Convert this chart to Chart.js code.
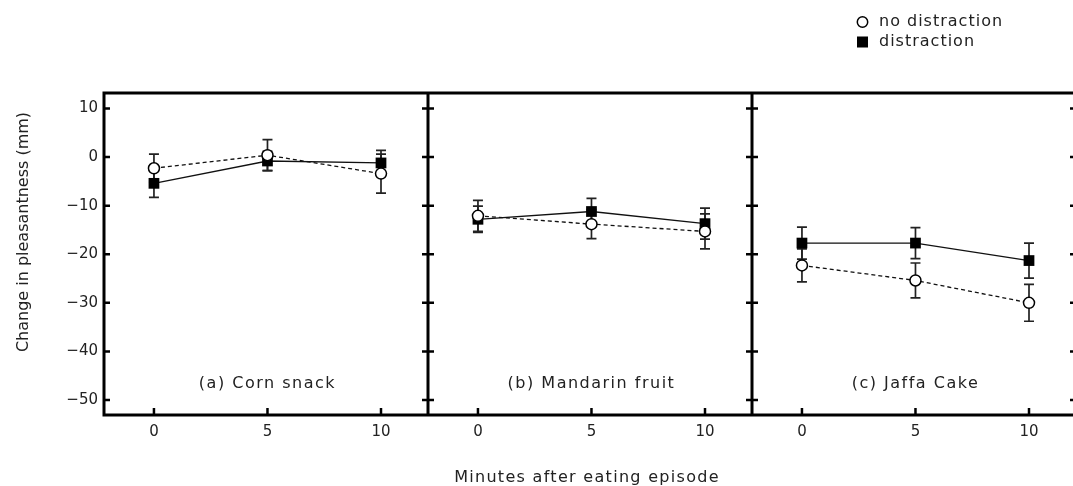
<!DOCTYPE html>
<html>
<head>
<meta charset="utf-8">
<script src="https://cdn.jsdelivr.net/npm/chart.js@4.4.1/dist/chart.umd.min.js"></script>
<style>
  html, body { margin: 0; padding: 0; background: #fff; overflow: hidden; }
  #wrap { position: relative; width: 1080px; height: 486px; }
</style>
</head>
<body>
<div id="wrap"><canvas id="chart" width="1080" height="486"></canvas></div>
<script>
'use strict';

/**
 * data
 */

const minutes = [0, 5, 10];
const panelNames = ['(a) Corn snack', '(b) Mandarin fruit', '(c) Jaffa Cake'];
const seriesNames = ['no distraction', 'distraction'];

// one row per panel, one value per minute
const noDistraction = [[-2.3, 0.4, -3.4], [-12.1, -13.8, -15.3], [-22.3, -25.4, -30.0]];
const noDistractionErr = [[2.9, 3.2, 4.0], [3.2, 3.0, 3.6], [3.4, 3.6, 3.8]];
const distraction = [[-5.4, -0.8, -1.2], [-12.8, -11.2, -13.7], [-17.7, -17.7, -21.3]];
const distractionErr = [[2.9, 2.0, 2.6], [2.7, 2.7, 3.2], [3.3, 3.2, 3.6]];

const yTicks = [10, 0, -10, -20, -30, -40, -50];

const xTitle = 'Minutes after eating episode';
const yTitle = 'Change in pleasantness (mm)';


/**
 * layout of the three panels on one x scale
 */

const xStart = -2.2;
const panelSpan = 14.27;
const FONT = 'DejaVu Sans';
const INK = '#222';

const panelOffset = function (p) { return p * panelSpan; };

// flatten the panels into one series, with a gap between panels
const buildSeries = function (values, errs) {
  const points = [];
  const bars = [];
  values.forEach(function (row, p) {
    row.forEach(function (v, i) {
      points.push({ x: panelOffset(p) + minutes[i], y: v });
      bars.push(errs[p][i]);
    });
    if (p < values.length - 1) {
      points.push({ x: panelOffset(p) + 12, y: null });
      bars.push(null);
    }
  });
  return { points: points, bars: bars };
};

const noDist = buildSeries(noDistraction, noDistractionErr);
const dist = buildSeries(distraction, distractionErr);


/**
 * plugins
 */

const errorBars = {
  id: 'errorBars',
  beforeDatasetsDraw: function (chart) {
    const ctx = chart.ctx;
    const y = chart.scales.y;
    ctx.save();
    ctx.strokeStyle = '#222';
    ctx.lineWidth = 1.7;
    chart.data.datasets.forEach(function (ds, di) {
      const meta = chart.getDatasetMeta(di);
      ds.errors.forEach(function (e, i) {
        const pt = ds.data[i];
        if (e === null || pt.y === null) return;
        const px = meta.data[i].x;
        const top = y.getPixelForValue(pt.y + e);
        const bot = y.getPixelForValue(pt.y - e);
        ctx.beginPath();
        ctx.moveTo(px, top); ctx.lineTo(px, bot);
        ctx.moveTo(px - 5, top); ctx.lineTo(px + 5, top);
        ctx.moveTo(px - 5, bot); ctx.lineTo(px + 5, bot);
        ctx.stroke();
      });
    });
    ctx.restore();
  }
};

const frame = {
  id: 'frame',
  afterDatasetsDraw: function (chart) {
    const ctx = chart.ctx;
    const a = chart.chartArea;
    const xs = chart.scales.x;
    const ys = chart.scales.y;
    ctx.save();
    ctx.strokeStyle = '#000';
    ctx.lineWidth = 3;
    ctx.strokeRect(a.left, a.top, a.right - a.left, a.bottom - a.top);

    const dividers = [];
    for (let p = 1; p < panelNames.length; p++) {
      dividers.push(xs.getPixelForValue(xStart + p * panelSpan));
    }
    dividers.forEach(function (dx) {
      ctx.beginPath();
      ctx.moveTo(dx, a.top); ctx.lineTo(dx, a.bottom);
      ctx.stroke();
    });

    // y tick marks on every panel edge
    ctx.lineWidth = 2.5;
    yTicks.forEach(function (v) {
      const py = ys.getPixelForValue(v);
      ctx.beginPath();
      ctx.moveTo(a.left, py); ctx.lineTo(a.left + 6, py);
      ctx.moveTo(a.right - 6, py); ctx.lineTo(a.right, py);
      dividers.forEach(function (dx) {
        ctx.moveTo(dx - 6, py); ctx.lineTo(dx + 6, py);
      });
      ctx.stroke();
    });

    // x tick marks, pointing up from the bottom
    xs.ticks.forEach(function (t) {
      const px = xs.getPixelForValue(t.value);
      ctx.beginPath();
      ctx.moveTo(px, a.bottom); ctx.lineTo(px, a.bottom - 7);
      ctx.stroke();
    });

    ctx.fillStyle = INK;
    ctx.textBaseline = 'alphabetic';
    ctx.textAlign = 'center';

    // panel names
    ctx.font = '16px "' + FONT + '"';
    ctx.letterSpacing = '1.5px';
    panelNames.forEach(function (name, p) {
      ctx.fillText(name, xs.getPixelForValue(panelOffset(p) + 5), ys.getPixelForValue(-47.6));
    });

    // axis titles
    ctx.letterSpacing = '1.3px';
    ctx.fillText(xTitle, (a.left + a.right) / 2 - 3, 482);
    ctx.letterSpacing = '0px';
    ctx.translate(28, 232);
    ctx.rotate(-Math.PI / 2);
    ctx.fillText(yTitle, 0, 0);
    ctx.restore();
  }
};

const cornerLegend = {
  id: 'cornerLegend',
  afterDraw: function (chart) {
    const ctx = chart.ctx;
    ctx.save();
    ctx.font = '16px "' + FONT + '"';
    ctx.letterSpacing = '1px';
    ctx.textBaseline = 'middle';
    chart.data.datasets.forEach(function (ds, i) {
      const cy = 22 + i * 20;
      ctx.beginPath();
      if (ds.pointStyle === 'rect') {
        ctx.fillStyle = '#000';
        ctx.fillRect(857, cy - 5.5, 11, 11);
      } else {
        ctx.arc(862.5, cy, 5.2, 0, Math.PI * 2);
        ctx.fillStyle = '#fff';
        ctx.fill();
        ctx.lineWidth = 1.5;
        ctx.strokeStyle = '#000';
        ctx.stroke();
      }
      ctx.fillStyle = INK;
      ctx.fillText(ds.label, 879, cy);
    });
    ctx.restore();
  }
};


/**
 * chart
 */

const ctx = document.getElementById('chart').getContext('2d');

new Chart(ctx, {
  type: 'line',
  data: {
    datasets: [
      {
        label: seriesNames[0],
        data: noDist.points,
        errors: noDist.bars,
        borderColor: '#111',
        borderWidth: 1.3,
        borderDash: [4, 3],
        pointStyle: 'circle',
        pointRadius: 5.5,
        pointBackgroundColor: '#fff',
        pointBorderColor: '#000',
        pointBorderWidth: 1.5,
        spanGaps: false
      },
      {
        label: seriesNames[1],
        data: dist.points,
        errors: dist.bars,
        borderColor: '#111',
        borderWidth: 1.3,
        pointStyle: 'rect',
        pointRadius: 7.6,
        pointBackgroundColor: '#000',
        pointBorderColor: '#000',
        pointBorderWidth: 0,
        spanGaps: false
      }
    ]
  },
  options: {
    responsive: false,
    animation: false,
    layout: { autoPadding: false, padding: { top: 93, right: 4, bottom: 0, left: 0 } },
    plugins: {
      legend: { display: false },
      tooltip: { enabled: false }
    },
    scales: {
      x: {
        type: 'linear',
        min: xStart,
        max: xStart + panelNames.length * panelSpan,
        grid: { display: false, drawTicks: false },
        border: { display: false },
        afterBuildTicks: function (scale) {
          const ticks = [];
          panelNames.forEach(function (_, p) {
            minutes.forEach(function (m) { ticks.push({ value: panelOffset(p) + m }); });
          });
          scale.ticks = ticks;
        },
        afterFit: function (scale) { scale.height = 71; },
        ticks: {
          autoSkip: false,
          maxRotation: 0,
          padding: 8,
          color: INK,
          font: { family: FONT, size: 15 },
          callback: function (value, index) { return String(minutes[index % minutes.length]); }
        }
      },
      y: {
        min: -53.1,
        max: 13.2,
        grid: { display: false, drawTicks: false },
        border: { display: false },
        afterBuildTicks: function (scale) {
          scale.ticks = yTicks.map(function (v) { return { value: v }; });
        },
        afterFit: function (scale) { scale.width = 104; },
        ticks: {
          autoSkip: false,
          padding: 6,
          color: INK,
          font: { family: FONT, size: 15 },
          callback: function (value) { return value < 0 ? '\u2212' + Math.abs(value) : String(value); }
        }
      }
    }
  },
  plugins: [errorBars, frame, cornerLegend]
});
</script>
</body>
</html>
